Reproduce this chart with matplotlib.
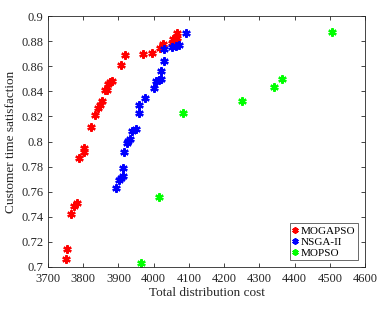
import matplotlib
matplotlib.use("Agg")
import matplotlib.pyplot as plt
from matplotlib.lines import Line2D

plt.rcParams['font.family'] = ['Liberation Serif', 'DejaVu Serif']

mogapso_x = [3918, 3906, 3970, 3995, 4017, 4027, 4052, 4055, 4065, 4067,
             3881, 3875, 3869, 3862, 3867, 3854, 3848, 3842, 3832, 3821,
             3803, 3801, 3788, 3775, 3783, 3764, 3754, 3750]
mogapso_y = [0.8688, 0.8608, 0.8694, 0.8707, 0.8742, 0.8774, 0.8787, 0.8814, 0.8822, 0.8867,
             0.8486, 0.8472, 0.8460, 0.8414, 0.8414, 0.8320, 0.8294, 0.8264, 0.8208, 0.8112,
             0.7947, 0.7920, 0.7867, 0.7486, 0.7507, 0.7419, 0.7144, 0.7064]

nsga_x = [4091, 4051, 4062, 4072, 4028, 4029, 4021, 4021, 4015, 4008,
          4001, 3974, 3958, 3957, 3951, 3938, 3934, 3928, 3923, 3915,
          3914, 3912, 3906, 3901, 3892]
nsga_y = [0.8867, 0.8752, 0.8760, 0.8766, 0.8734, 0.8640, 0.8566, 0.8502, 0.8494, 0.8483,
          0.8427, 0.8347, 0.8291, 0.8224, 0.8096, 0.8080, 0.8019, 0.8003, 0.7992, 0.7918,
          0.7787, 0.7726, 0.7707, 0.7694, 0.7627]

mopso_x = [4083, 4014, 3965, 4505, 4363, 4343, 4252]
mopso_y = [0.8230, 0.7560, 0.7035, 0.8872, 0.8502, 0.8432, 0.8320]

series = [("MOGAPSO", mogapso_x, mogapso_y, "#ff0000"),
          ("NSGA-II", nsga_x, nsga_y, "#0000ff"),
          ("MOPSO", mopso_x, mopso_y, "#00ff00")]

fig = plt.figure(figsize=(3.86, 3.09), dpi=100)
ax = fig.add_axes([0.1244, 0.136, 0.8212, 0.812])

handles = []
for name, xs, ys, c in series:
    ax.plot(xs, ys, linestyle='none', marker=(6, 2, 0), markersize=6,
            markeredgewidth=1.6, color=c)
    ax.plot(xs, ys, linestyle='none', marker='o', markersize=3.2,
            color=c, markeredgewidth=0)
    handles.append(Line2D([], [], linestyle='none', marker=(6, 2, 0), markersize=4.5,
                          markeredgewidth=1.4, color=c, label=name))

ax.set_xlim(3700, 4600)
ax.set_ylim(0.7, 0.9)
ax.set_xticks(range(3700, 4601, 100))
ax.set_yticks([0.7, 0.72, 0.74, 0.76, 0.78, 0.8, 0.82, 0.84, 0.86, 0.88, 0.9])
ax.set_yticklabels(['0.7', '0.72', '0.74', '0.76', '0.78', '0.8', '0.82', '0.84', '0.86', '0.88', '0.9'])
ax.tick_params(direction='in', top=True, right=True, length=3, width=0.6,
               labelsize=9, colors='#262626')
ax.tick_params(axis='x', pad=4.5)
ax.tick_params(axis='y', pad=3.5)
for s in ax.spines.values():
    s.set_linewidth(0.6)
    s.set_color('#262626')
ax.set_xlabel('Total distribution cost', fontsize=9.5, color='#262626', labelpad=1)
ax.set_ylabel('Customer time satisfaction', fontsize=9.5, color='#262626', labelpad=3)

leg = ax.legend(handles=handles, loc='lower right', fontsize=8, frameon=True,
                fancybox=False, handlelength=0.5, handletextpad=0.25,
                borderpad=0.25, labelspacing=0.1, borderaxespad=0.6)
leg.get_frame().set_edgecolor('#262626')
leg.get_frame().set_linewidth(0.6)

fig.savefig('out.png', dpi=100)
